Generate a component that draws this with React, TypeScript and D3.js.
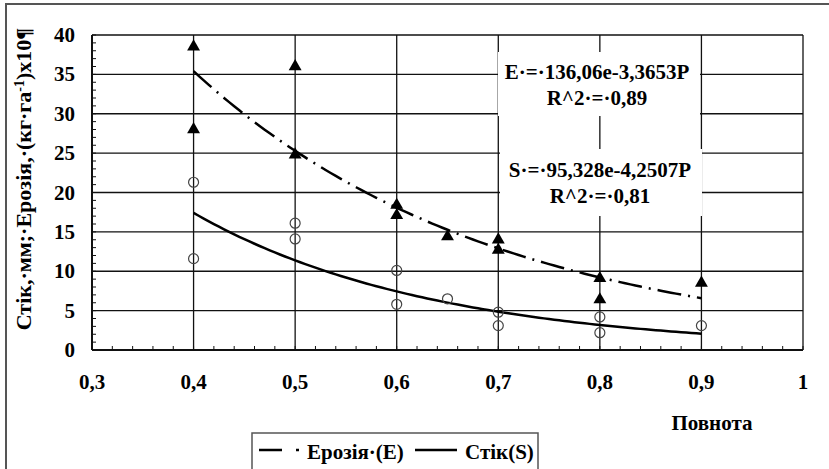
import React from 'react';
import * as d3 from 'd3';

// Ерозія (E) – triangles, Стік (S) – circles
const erosion = [
  { p: 0.4, v: 38.5 }, { p: 0.4, v: 28.0 },
  { p: 0.5, v: 36.0 }, { p: 0.5, v: 24.8 },
  { p: 0.6, v: 18.4 }, { p: 0.6, v: 17.1 },
  { p: 0.65, v: 14.4 },
  { p: 0.7, v: 14.0 }, { p: 0.7, v: 12.7 },
  { p: 0.8, v: 9.1 }, { p: 0.8, v: 6.4 },
  { p: 0.9, v: 8.5 },
];
const runoff = [
  { p: 0.4, v: 21.3 }, { p: 0.4, v: 11.6 },
  { p: 0.5, v: 16.1 }, { p: 0.5, v: 14.1 },
  { p: 0.6, v: 10.1 }, { p: 0.6, v: 5.8 },
  { p: 0.65, v: 6.5 },
  { p: 0.7, v: 4.8 }, { p: 0.7, v: 3.1 },
  { p: 0.8, v: 4.2 }, { p: 0.8, v: 2.2 },
  { p: 0.9, v: 3.1 },
];
// exponential trend lines shown on the chart: y = a * e^(b*P)
const erosionFit = { a: 136.06, b: -3.3653 };
const runoffFit = { a: 95.328, b: -4.2507 };
const fitRange = [0.4, 0.9];

const xTicks = [0.3, 0.4, 0.5, 0.6, 0.7, 0.8, 0.9, 1];
const yTicks = [0, 5, 10, 15, 20, 25, 30, 35, 40];

const txt = { fontFamily: 'Liberation Serif', fontWeight: 700 as const, fontSize: 21 };

const App = () => {
  const x = d3.scaleLinear().domain([0.3, 1]).range([92, 803]);
  const y = d3.scaleLinear().domain([0, 40]).range([350, 35]);

  const curve = (fit: { a: number; b: number }) => {
    const pts = d3.range(0, 101).map(i => {
      const p = fitRange[0] + (fitRange[1] - fitRange[0]) * (i / 100);
      return [p, fit.a * Math.exp(fit.b * p)] as [number, number];
    });
    return d3.line<[number, number]>().x(d => x(d[0])).y(d => y(d[1]))(pts) || '';
  };

  const fmt = (v: number) => String(v).replace('.', ',');
  const tri = d3.symbol().type(d3.symbolTriangle).size(72)() || '';

  const yMinor = d3.range(0, 41, 1);
  const xMinor = d3.range(0, 36).map(i => 0.3 + i * 0.02);

  return (
    <svg width={829} height={469} style={{ position: 'absolute', left: 0, top: 0 }}>
      <rect x={0} y={0} width={829} height={469} fill="#fff" />
      {/* outer frame */}
      <rect x={6} y={4} width={840} height={480} fill="none" stroke="#555" strokeWidth={2} />

      {/* gridlines */}
      {yTicks.slice(1).map(t => (
        <line key={'gy' + t} x1={x(0.3)} x2={x(1)} y1={y(t)} y2={y(t)} stroke="#111" strokeWidth={1.3} />
      ))}
      {xTicks.slice(1).map(t => (
        <line key={'gx' + t} x1={x(t)} x2={x(t)} y1={y(0)} y2={y(40)} stroke="#111" strokeWidth={1.3} />
      ))}

      {/* axes */}
      <line x1={x(0.3)} x2={x(0.3)} y1={y(0)} y2={y(40)} stroke="#111" strokeWidth={2} />
      <line x1={x(0.3)} x2={x(1)} y1={y(0)} y2={y(0)} stroke="#111" strokeWidth={2} />
      {yMinor.map(t => (
        <line key={'my' + t} x1={x(0.3)} x2={x(0.3) + 4} y1={y(t)} y2={y(t)} stroke="#111" strokeWidth={1} />
      ))}
      {xMinor.map(t => (
        <line key={'mx' + t} x1={x(t)} x2={x(t)} y1={y(0)} y2={y(0) - 4} stroke="#111" strokeWidth={1} />
      ))}

      {/* tick labels */}
      {yTicks.map(t => (
        <text key={'ly' + t} x={75} y={y(t) + 7} textAnchor="end" style={txt}>{t}</text>
      ))}
      {xTicks.map(t => (
        <text key={'lx' + t} x={x(t)} y={389} textAnchor="middle" style={txt}>{fmt(t)}</text>
      ))}

      {/* axis titles */}
      <text transform="translate(31,179) rotate(-90)" textAnchor="middle" style={{ ...txt, fontSize: 22 }}>
        Стік,·мм;·Ерозія,·(кг·га<tspan dy={-7} style={{ fontSize: 14 }}>-1</tspan><tspan dy={7}>)x10¶</tspan>
      </text>
      <text x={712} y={430} textAnchor="middle" style={txt}>Повнота</text>

      {/* trend lines */}
      <path d={curve(erosionFit)} fill="none" stroke="#000" strokeWidth={2.5} strokeDasharray="24 7 2 7" />
      <path d={curve(runoffFit)} fill="none" stroke="#000" strokeWidth={2.5} />

      {/* points */}
      {runoff.map((d, i) => (
        <circle key={'s' + i} cx={x(d.p)} cy={y(d.v)} r={5} fill="none" stroke="#444" strokeWidth={1.2} />
      ))}
      {erosion.map((d, i) => (
        <path key={'e' + i} d={tri} transform={`translate(${x(d.p)},${y(d.v)})`} fill="#000" />
      ))}

      {/* equation labels */}
      <rect x={498} y={52} width={202} height={64} fill="#fff" />
      <text x={597} y={79} textAnchor="middle" style={txt}>E·=·136,06e-3,3653P</text>
      <text x={597} y={105} textAnchor="middle" style={txt}>R^2·=·0,89</text>
      <rect x={500} y={149} width={202} height={67} fill="#fff" />
      <text x={600} y={177} textAnchor="middle" style={txt}>S·=·95,328e-4,2507P</text>
      <text x={600} y={203} textAnchor="middle" style={txt}>R^2·=·0,81</text>

      {/* legend */}
      <rect x={252} y={433} width={286} height={40} fill="#fff" stroke="#555" strokeWidth={1.5} />
      <line x1={259} x2={301} y1={450} y2={450} stroke="#000" strokeWidth={2.5} strokeDasharray="23 14 3 6" />
      <text x={307} y={459} style={txt}>Ерозія·(Е)</text>
      <line x1={415} x2={457} y1={450} y2={450} stroke="#000" strokeWidth={2.5} />
      <text x={465} y={459} style={txt}>Стік(S)</text>
    </svg>
  );
};

export default App;
